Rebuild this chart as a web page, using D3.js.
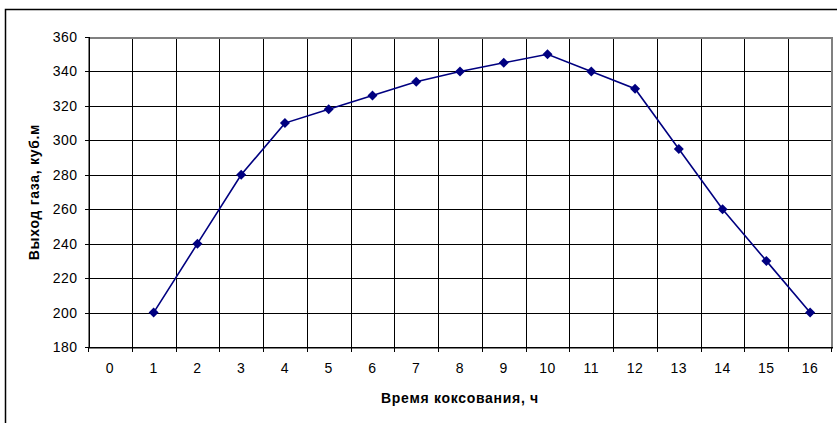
<!DOCTYPE html>
<html>
<head>
<meta charset="utf-8">
<style>
  body { margin: 0; background: #fff; font-family: Arial, "Liberation Sans", sans-serif; }
</style>
<script src="https://cdn.jsdelivr.net/npm/d3@7"></script>
</head>
<body>
<script>
// chart data
var hours = [0, 1, 2, 3, 4, 5, 6, 7, 8, 9, 10, 11, 12, 13, 14, 15, 16];
var gasHours = [1, 2, 3, 4, 5, 6, 7, 8, 9, 10, 11, 12, 13, 14, 15, 16];
var gasValues = [200, 240, 280, 310, 318, 326, 334, 340, 345, 350, 340, 330, 295, 260, 230, 200];
var yTicks = [180, 200, 220, 240, 260, 280, 300, 320, 340, 360];

var W = 837, H = 423;
var plot = {left: 88, top: 37, right: 832, bottom: 347};
var fontFam = "Arial, 'Liberation Sans', sans-serif";

var svg = d3.select("body").append("svg")
    .attr("width", W).attr("height", H);

// outer chart frame
svg.append("rect")
    .attr("x", 5.5).attr("y", 9.5)
    .attr("width", W + 10).attr("height", H + 10)
    .attr("fill", "#fff").attr("stroke", "#000").attr("stroke-width", 1.5);

var x = d3.scaleBand()
    .domain(hours)
    .range([plot.left, plot.right]);

var y = d3.scaleLinear()
    .domain([180, 360])
    .range([plot.bottom, plot.top]);

var g = svg.append("g").attr("shape-rendering", "crispEdges");

// horizontal grid
g.selectAll(".hgrid")
    .data(yTicks)
  .enter().append("line")
    .attr("x1", plot.left).attr("x2", plot.right)
    .attr("y1", d => Math.round(y(d)) + 0.5).attr("y2", d => Math.round(y(d)) + 0.5)
    .attr("stroke", "#000");

// vertical grid at category boundaries
var bounds = hours.slice(1).map(d => x(d));
g.selectAll(".vgrid")
    .data(bounds)
  .enter().append("line")
    .attr("x1", d => Math.round(d) + 0.5).attr("x2", d => Math.round(d) + 0.5)
    .attr("y1", plot.top).attr("y2", plot.bottom)
    .attr("stroke", "#000");

// plot border
g.append("rect")
    .attr("x", plot.left + 0.5).attr("y", plot.top + 0.5)
    .attr("width", plot.right - plot.left - 1).attr("height", plot.bottom - plot.top)
    .attr("fill", "none").attr("stroke", "#808080").attr("stroke-width", 2);

// x axis
var xAxis = d3.axisBottom(x).tickSize(0).tickPadding(0);
var gx = svg.append("g")
    .attr("transform", `translate(0,${plot.bottom})`)
    .call(xAxis);
gx.select(".domain").attr("stroke", "#000").attr("shape-rendering", "crispEdges");
gx.selectAll("text")
    .attr("y", 21).attr("dy", "0.35em")
    .attr("font-size", 14).attr("letter-spacing", 0.5)
    .attr("font-family", fontFam).attr("fill", "#000");

// x tick marks at boundaries
g.selectAll(".xtick")
    .data([plot.left].concat(bounds, [plot.right - 1]))
  .enter().append("line")
    .attr("x1", d => Math.round(d) + 0.5).attr("x2", d => Math.round(d) + 0.5)
    .attr("y1", plot.bottom).attr("y2", plot.bottom + 5)
    .attr("stroke", "#000");

// y axis
var yAxis = d3.axisLeft(y).tickValues(yTicks).tickSize(4).tickPadding(7);
var gy = svg.append("g")
    .attr("transform", `translate(${plot.left + 0.5},0)`)
    .call(yAxis);
gy.select(".domain").attr("stroke", "#000");
gy.attr("shape-rendering", "crispEdges");
gy.selectAll("text")
    .attr("font-size", 14).attr("letter-spacing", 0.5)
    .attr("font-family", fontFam).attr("fill", "#000");

// axis titles
svg.append("text")
    .attr("x", (plot.left + plot.right) / 2).attr("y", 403)
    .attr("text-anchor", "middle")
    .attr("font-size", 14).attr("font-weight", "bold").attr("letter-spacing", 0.7)
    .text("Время коксования, ч");

svg.append("text")
    .attr("transform", `translate(38.5,${(plot.top + plot.bottom) / 2}) rotate(-90)`)
    .attr("text-anchor", "middle")
    .attr("font-size", 14).attr("font-weight", "bold").attr("letter-spacing", 0.7)
    .text("Выход газа, куб.м");

// series line
var cx = d => x(d) + x.bandwidth() / 2;
var line = d3.line()
    .x((d, i) => cx(gasHours[i]))
    .y(d => y(d));

svg.append("path")
    .datum(gasValues)
    .attr("d", line)
    .attr("fill", "none")
    .attr("stroke", "#000080")
    .attr("stroke-width", 1.6);

// diamond markers
svg.selectAll(".pt")
    .data(gasValues)
  .enter().append("path")
    .attr("d", "M0,-5L5,0L0,5L-5,0Z")
    .attr("transform", (d, i) => `translate(${cx(gasHours[i])},${y(d)})`)
    .attr("fill", "#000080");
</script>
</body>
</html>
